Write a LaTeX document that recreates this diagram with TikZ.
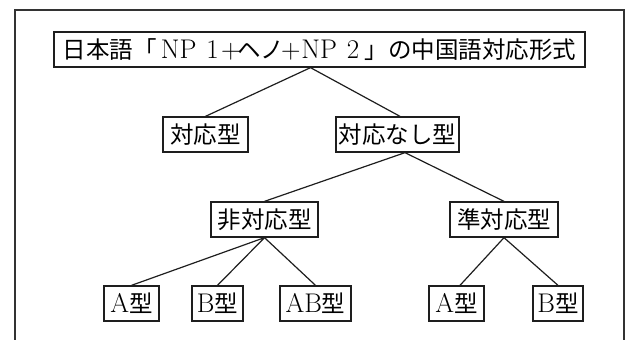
\documentclass[tikz,border=0pt]{standalone}
\usepackage{fontspec}
\newfontfamily\jp{Noto Sans CJK JP}
\newcommand{\latn}[1]{{\fontsize{27}{30}\selectfont #1}}
\newcommand{\fwbox}[1]{\makebox[23.5pt]{\latn{#1}}}
\newcommand{\hwbox}[1]{\makebox[13pt]{\latn{#1}}}
\definecolor{ink}{HTML}{1E1E1E}
\definecolor{framecol}{HTML}{333333}
\begin{document}
\begin{tikzpicture}[x=1pt,y=-1pt,
  box/.style={draw=ink,line width=1.3pt,minimum height=35pt,inner sep=0pt,
    font=\fontsize{23.5}{26}\selectfont},
  link/.style={draw=ink,line width=1.2pt}]
\useasboundingbox (0,0) rectangle (627,340);
\draw[framecol,line width=1.8pt] (15,341) -- (15,10) -- (624,10) -- (624,341);
\node[box,minimum width=531pt] (title) at (319.5,49.5)
  {{\jp 日本語「}\makebox[44pt]{\latn{NP}}\fwbox{1}\hwbox{+}{\jp ヘノ}\hwbox{+}\makebox[44pt]{\latn{NP}}\fwbox{2}{\jp 」の中国語対応形式}};
\node[box,minimum width=85pt] (t1) at (205.5,134.5) {\jp 対応型};
\node[box,minimum width=123pt] (t2) at (397.5,134.5) {\jp 対応なし型};
\node[box,minimum width=107pt] (n1) at (264.5,219.5) {\jp 非対応型};
\node[box,minimum width=108pt] (n2) at (504,219.5) {\jp 準対応型};
\node[box,minimum width=55pt] (a1) at (131.5,303.5) {\latn{A}{\jp 型}};
\node[box,minimum width=51pt] (b1) at (217.5,303.5) {\latn{B}{\jp 型}};
\node[box,minimum width=71pt] (ab1) at (315.5,303.5) {\latn{AB}{\jp 型}};
\node[box,minimum width=55pt] (a2) at (456.5,303.5) {\latn{A}{\jp 型}};
\node[box,minimum width=50pt] (b2) at (558,303.5) {\latn{B}{\jp 型}};
\draw[link] (t1.north) -- ([xshift=-9pt]title.south) -- ([xshift=2.5pt]t2.north);
\draw[link] (n1.north) -- ([xshift=7.5pt]t2.south) -- (n2.north);
\draw[link] (a1.north) -- (n1.south) -- (b1.north);
\draw[link] (n1.south) -- (ab1.north);
\draw[link] ([xshift=3.5pt]a2.north) -- (n2.south) -- (b2.north);
\end{tikzpicture}
\end{document}
